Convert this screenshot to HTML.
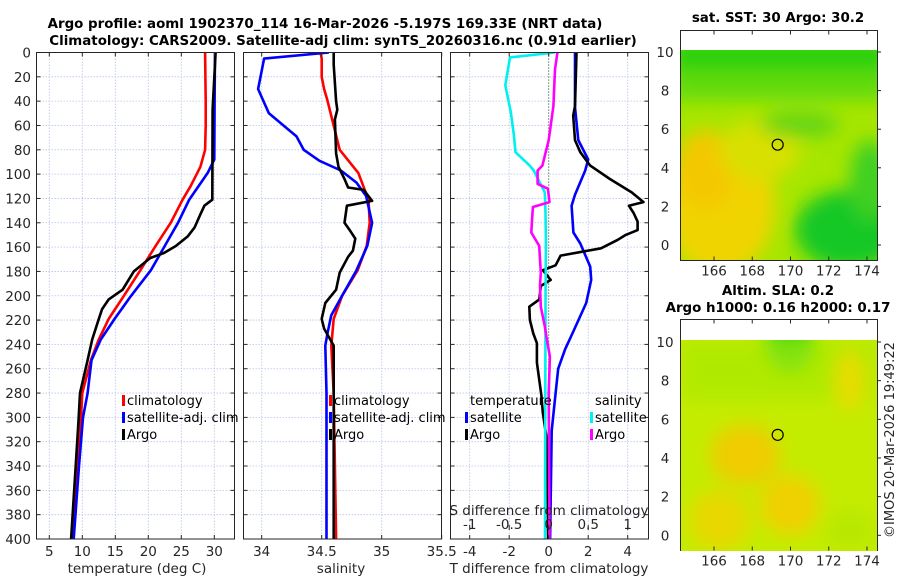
<!DOCTYPE html>
<html><head><meta charset="utf-8">
<style>
html,body{margin:0;padding:0;background:#fff;}
svg{display:block;font-family:"DejaVu Sans","Liberation Sans",sans-serif;}
.tk{font-size:13.5px;fill:#262626;}
.tt{font-size:13.4px;font-weight:bold;fill:#000;}
.lg{font-size:13px;fill:#000;}
</style></head>
<body>
<svg id="fig" width="900" height="580" viewBox="0 0 900 580">
<defs>
 <clipPath id="c1"><rect x="36.5" y="52.5" width="198" height="486.5"/></clipPath>
 <clipPath id="c2"><rect x="243.5" y="52.5" width="198" height="486.5"/></clipPath>
 <clipPath id="c3"><rect x="450.5" y="52.5" width="198" height="486.5"/></clipPath>
 <clipPath id="m1c"><rect x="681" y="50" width="196" height="210"/></clipPath>
 <clipPath id="m2c"><rect x="681" y="340" width="196" height="211"/></clipPath>
 <filter id="bl" x="-50%" y="-50%" width="200%" height="200%"><feGaussianBlur stdDeviation="9"/></filter>
</defs>
<text class="tt" x="325" y="28" text-anchor="middle">Argo profile: aoml 1902370_114 16-Mar-2026 -5.197S 169.33E (NRT data)</text>
<text class="tt" x="343" y="45" text-anchor="middle">Climatology: CARS2009. Satellite-adj clim: synTS_20260316.nc (0.91d earlier)</text>

<g>
 <rect x="680.5" y="30.5" width="197" height="230" fill="#fff" stroke="#262626"/>
 <g clip-path="url(#m1c)">
  <rect x="681" y="50" width="196" height="211" fill="#a6e600"/>
  <g filter="url(#bl)">
   <rect x="670" y="40" width="220" height="38" fill="#28d010"/>
   <rect x="670" y="70" width="220" height="30" fill="#60da10"/>
   <ellipse cx="720" cy="205" rx="55" ry="70" fill="#f0d400"/>
   <ellipse cx="705" cy="170" rx="30" ry="40" fill="#f4c800"/>
   <ellipse cx="760" cy="150" rx="40" ry="30" fill="#d8e000"/>
   <ellipse cx="850" cy="230" rx="55" ry="40" fill="#18c828"/>
   <ellipse cx="870" cy="180" rx="20" ry="40" fill="#40d020"/>
   <ellipse cx="800" cy="125" rx="40" ry="12" fill="#60d418"/>
  </g>
 </g>
 <text class="tt" x="778" y="22" text-anchor="middle">sat. SST: 30 Argo: 30.2</text>
</g>
<g>
 <rect x="680.5" y="319.5" width="197" height="231" fill="#fff" stroke="#262626"/>
 <g clip-path="url(#m2c)">
  <rect x="681" y="340" width="196" height="211" fill="#c4ec00"/>
  <g filter="url(#bl)">
   <ellipse cx="790" cy="345" rx="25" ry="28" fill="#30d818"/>
   <rect x="681" y="340" width="196" height="60" fill="#a8e800" opacity="0.7"/>
   <ellipse cx="745" cy="455" rx="35" ry="30" fill="#f0cc00"/>
   <ellipse cx="790" cy="505" rx="30" ry="30" fill="#f0d000"/>
   <ellipse cx="720" cy="520" rx="30" ry="30" fill="#e8d800"/>
   <ellipse cx="850" cy="380" rx="15" ry="30" fill="#e8dc00"/>
   <ellipse cx="850" cy="530" rx="25" ry="20" fill="#b8e800"/>
  </g>
 </g>
 <text class="tt" x="778" y="295" text-anchor="middle">Altim. SLA: 0.2</text>
 <text class="tt" x="778" y="312" text-anchor="middle">Argo h1000: 0.16 h2000: 0.17</text>
</g>
<text class="tk" transform="translate(894,440) rotate(-90)" text-anchor="middle" style="font-size:13px">©IMOS 20-Mar-2026 19:49:22</text>
</svg>
<script>
// ---- data ----
const tDepth = [0,20,40,60,80,94,110,121,140,159,179,200,219,236,253,280,300,340,400];
const tClim  = [28.6,28.65,28.7,28.7,28.6,27.9,26.4,25.2,23.4,21.1,18.8,16.3,14.0,12.5,11.3,10.0,9.8,9.2,8.5];
const tSatD  = [0,40,88,99,121,140,159,179,200,219,236,253,280,300,340,400];
const tSat   = [30.1,30.05,30.0,29.0,26.2,24.5,22.5,20.4,17.4,14.9,12.8,11.4,10.8,10.1,9.5,8.7];
const tArgoD = [0,47,121,126,133,144,151,159,165,169,180,195,203,211,219,236,253,280,300,340,400];
const tArgo  = [30.2,29.75,29.7,28.5,27.9,27.0,26.0,24.2,22.3,20.3,17.8,16.1,14.0,13.0,12.5,11.5,10.8,9.65,9.45,9.0,8.3];

const sClimD = [0,5,20,30,39,80,99,121,140,159,179,200,219,241,280,400];
const sClim  = [34.49,34.5,34.5,34.52,34.547,34.65,34.805,34.89,34.9,34.875,34.8,34.67,34.6,34.58,34.6,34.62];
const sSatD  = [0,5,30,39,50,69,80,89,97,107,118,140,159,179,200,216,230,241,280,400];
const sSat   = [34.56,34.02,33.97,34.01,34.06,34.29,34.35,34.48,34.66,34.79,34.87,34.92,34.88,34.79,34.67,34.58,34.55,34.53,34.54,34.54];
const sArgoD = [0,10,40,47,55,83,94,104,111,113,122,126,140,147,153,163,168,181,195,206,219,227,241,280,400];
const sArgo  = [34.6,34.6,34.62,34.63,34.61,34.62,34.64,34.69,34.72,34.85,34.92,34.71,34.69,34.74,34.78,34.76,34.72,34.65,34.62,34.53,34.5,34.52,34.6,34.6,34.6];

const dTSatD = [0,45,72,88,97,117,126,148,157,176,187,206,231,244,260,280,311,400];
const dTSat  = [1.33,1.33,1.5,2.0,1.85,1.33,1.16,1.25,1.6,2.1,2.15,1.9,1.2,0.83,0.48,0.35,0.15,0.07];
const dTArgoD= [0,44,52,72,82,93,104,115,123,126,132,139,146,150,154,161,167,175,179,187,192,203,209,220,231,239,255,282,296,312,321,400];
const dTArgo = [1.41,1.33,1.24,1.33,1.6,2.1,3.1,4.2,4.8,4.06,4.3,4.5,4.5,3.9,3.5,2.65,0.6,0.35,-0.3,0.1,-0.4,-0.47,-0.98,-0.95,-0.78,-0.6,-0.6,-0.37,-0.3,-0.15,-0.06,-0.03];
const dSSatD = [0,4,27,49,68,82,93,97,115,132,154,209,400];
const dSSat  = [0.08,-0.49,-0.55,-0.48,-0.44,-0.42,-0.24,-0.19,-0.05,-0.04,-0.035,-0.04,-0.047];
const dSArgoD= [0,14,44,72,93,97,108,112,123,127,137,148,159,181,192,209,225,233,250,280,400];
const dSArgo = [0.11,0.08,0.06,0.0,-0.08,-0.14,-0.14,-0.01,0.01,-0.2,-0.21,-0.22,-0.12,-0.1,-0.11,-0.1,-0.05,-0.03,0.015,0.0,0.01];

const depthTicks = [0,20,40,60,80,100,120,140,160,180,200,220,240,260,280,300,320,340,360,380,400];
const tTicks = [5,10,15,20,25,30];
const sTicks = [34,34.5,35,35.5];
const sTickLabels = ['34','34.5','35','35.5'];
const dtTicks = [-4,-2,0,2,4];
const dsTicks = [-1,-0.5,0,0.5,1];
const dsTickLabels = ['-1','-0.5','0','0.5','1'];
const lonTicks = [166,168,170,172,174];
const latTicks = [0,2,4,6,8,10];
const argoLon = 169.33, argoLat = 5.197;

// ---- axes ----
const Y0 = 52.5, Y1 = 539;
const yD = d => Y0 + d*(Y1-Y0)/400;
const xT = t => 49.3 + (t-5)*6.6;
const xS = s => 261.7 + (s-34)*120;
const xDT = t => 548.7 + t*19.75;
const xDS = s => 548.7 + s*79;
const mX = lon => 714 + (lon-166)*19.125;
const m1Y = lat => 245 - lat*19.3;
const m2Y = lat => 535.3 - lat*19.33;

const svg = document.getElementById('fig');
const NS = 'http://www.w3.org/2000/svg';
function mk(tag, attrs, parent){const e=document.createElementNS(NS,tag);for(const k in attrs)e.setAttribute(k,attrs[k]);(parent||svg).appendChild(e);return e;}

function line(ds, vs, xf, color, clip, name){
  const pts = ds.map((d,i)=>xf(vs[i]).toFixed(1)+','+yD(d).toFixed(1)).join(' ');
  const p = mk('polyline',{points:pts,fill:'none',stroke:color,'stroke-width':2.6,'stroke-linejoin':'round','clip-path':'url(#'+clip+')'});
  
  
}
function panel(x0, name){
  const g = mk('g',{});
  
  
  mk('rect',{x:x0,y:Y0,width:198,height:Y1-Y0,fill:'#fff'},g);
  depthTicks.forEach(d=>{
    mk('line',{x1:x0,x2:x0+198,y1:yD(d),y2:yD(d),stroke:'#b8c4e8','stroke-width':0.8,'stroke-dasharray':'1.5,1.5'},g);
  });
  return g;
}
function frame(x0,g){
  depthTicks.forEach(d=>{
    mk('line',{x1:x0,x2:x0+4,y1:yD(d),y2:yD(d),stroke:'#262626'},g);
    mk('line',{x1:x0+198-4,x2:x0+198,y1:yD(d),y2:yD(d),stroke:'#262626'},g);
  });
  mk('rect',{x:x0,y:Y0,width:198,height:Y1-Y0,fill:'none',stroke:'#262626','stroke-width':1},g);
}
function vgrid(g, ticks, xf){
  ticks.forEach(t=>{ mk('line',{x1:xf(t),x2:xf(t),y1:Y0,y2:Y1,stroke:'#b8c4e8','stroke-width':0.8,'stroke-dasharray':'1.5,1.5'},g); });
}
function xlabels(ticks, labels, xf, y){
  ticks.forEach((t,i)=>{
    const e = mk('text',{x:xf(t),y:y,'text-anchor':'middle',class:'tk'});
    e.textContent = labels ? labels[i] : String(t);
    
    
  });
}
function legendEntry(x, y, color, label){
  mk('rect',{x:x,y:y-10,width:3,height:11,fill:color});
  const e = mk('text',{x:x+5,y:y,class:'lg'});
  e.textContent = label;
  
  
}

// Panel 1
let g1 = panel(36.5,'temperature-panel');
vgrid(g1, tTicks, xT);
line(tDepth, tClim, xT, '#ff0000', 'c1', 'temp-climatology-line');
line(tSatD, tSat, xT, '#0000ff', 'c1', 'temp-satellite-line');
line(tArgoD, tArgo, xT, '#000000', 'c1', 'temp-argo-line');
frame(36.5, svg);
tTicks.forEach(t=>{ mk('line',{x1:xT(t),x2:xT(t),y1:Y1,y2:Y1-4,stroke:'#262626'}); mk('line',{x1:xT(t),x2:xT(t),y1:Y0,y2:Y0+4,stroke:'#262626'}); });
depthTicks.forEach(d=>{
  const e = mk('text',{x:31,y:yD(d)+5,'text-anchor':'end',class:'tk'});
  e.textContent = d;
  
  
});
xlabels(tTicks, null, xT, 556);
let e = mk('text',{x:137,y:573,'text-anchor':'middle',class:'tk'}); e.textContent='temperature (deg C)';


legendEntry(122, 405, '#ff0000', 'climatology');
legendEntry(122, 422, '#0000ff', 'satellite-adj. clim');
legendEntry(122, 439, '#000000', 'Argo');

// Panel 2
let g2 = panel(243.5,'salinity-panel');
vgrid(g2, sTicks, xS);
line(sClimD, sClim, xS, '#ff0000', 'c2', 'sal-climatology-line');
line(sSatD, sSat, xS, '#0000ff', 'c2', 'sal-satellite-line');
line(sArgoD, sArgo, xS, '#000000', 'c2', 'sal-argo-line');
frame(243.5, svg);
sTicks.forEach(t=>{ mk('line',{x1:xS(t),x2:xS(t),y1:Y1,y2:Y1-4,stroke:'#262626'}); mk('line',{x1:xS(t),x2:xS(t),y1:Y0,y2:Y0+4,stroke:'#262626'}); });
xlabels(sTicks, sTickLabels, xS, 556);
e = mk('text',{x:341,y:573,'text-anchor':'middle',class:'tk'}); e.textContent='salinity';


legendEntry(329, 405, '#ff0000', 'climatology');
legendEntry(329, 422, '#0000ff', 'satellite-adj. clim');
legendEntry(329, 439, '#000000', 'Argo');

// Panel 3
let g3 = panel(450.5,'difference-panel');
vgrid(g3, dtTicks, xDT);
mk('line',{x1:xDT(0),x2:xDT(0),y1:Y0,y2:Y1,stroke:'#335522','stroke-width':1,'stroke-dasharray':'1,2'});
line(dTSatD, dTSat, xDT, '#0000ff', 'c3', 'dtemp-satellite-line');
line(dTArgoD, dTArgo, xDT, '#000000', 'c3', 'dtemp-argo-line');
line(dSSatD, dSSat, xDS, '#00f0f0', 'c3', 'dsal-satellite-line');
line(dSArgoD, dSArgo, xDS, '#ff00ff', 'c3', 'dsal-argo-line');
frame(450.5, svg);
dtTicks.forEach(t=>{ mk('line',{x1:xDT(t),x2:xDT(t),y1:Y1,y2:Y1-4,stroke:'#262626'}); mk('line',{x1:xDT(t),x2:xDT(t),y1:Y0,y2:Y0+4,stroke:'#262626'}); });
dsTicks.forEach(t=>{ mk('line',{x1:xDS(t),x2:xDS(t),y1:Y1-14,y2:Y1-9,stroke:'#262626'}); });
xlabels(dtTicks, null, xDT, 556);
xlabels(dsTicks, dsTickLabels, xDS, 529);
e = mk('text',{x:549,y:515,'text-anchor':'middle',class:'tk'}); e.textContent='S difference from climatology';


e = mk('text',{x:549,y:573,'text-anchor':'middle',class:'tk'}); e.textContent='T difference from climatology';


e = mk('text',{x:470,y:405,class:'lg'}); e.textContent='temperature';


e = mk('text',{x:595,y:405,class:'lg'}); e.textContent='salinity';


legendEntry(465, 422, '#0000ff', 'satellite');
legendEntry(465, 439, '#000000', 'Argo');
legendEntry(590, 422, '#00f0f0', 'satellite');
legendEntry(590, 439, '#ff00ff', 'Argo');

// Maps
function mapAxes(yf, bottom, top, name){
  latTicks.forEach(l=>{
    mk('line',{x1:877,x2:881,y1:yf(l),y2:yf(l),stroke:'#262626'});
    const t = mk('text',{x:665,y:yf(l)+5,'text-anchor':'middle',class:'tk'}); t.textContent=l;
    
    
  });
  lonTicks.forEach(l=>{
    mk('line',{x1:mX(l),x2:mX(l),y1:bottom,y2:bottom-4,stroke:'#262626'});
    mk('line',{x1:mX(l),x2:mX(l),y1:top,y2:top+4,stroke:'#262626'});
    const t = mk('text',{x:mX(l),y:bottom+15,'text-anchor':'middle',class:'tk'}); t.textContent=l;
    
    
  });
  const c = mk('circle',{cx:mX(argoLon),cy:yf(argoLat),r:5.5,fill:'none',stroke:'#000','stroke-width':1.2});
  
  
}
mapAxes(m1Y, 260.5, 30.5, 'sst-map');
mapAxes(m2Y, 550.5, 319.5, 'sla-map');
</script>
</body></html>
